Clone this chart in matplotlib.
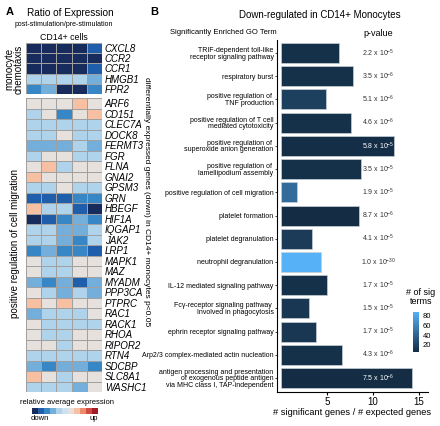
import numpy as np
import matplotlib
matplotlib.use("Agg")
import matplotlib.pyplot as plt
from matplotlib.colors import ListedColormap, BoundaryNorm, LinearSegmentedColormap, Normalize

plt.rcParams['font.family'] = ['Liberation Sans', 'DejaVu Sans']
plt.rcParams['mathtext.default'] = 'regular'

# ---- panel A data (levels 0..10, 0 = strongest down, 5/6 = neutral, 10 = strongest up)
chemo_genes = ["CXCL8", "CCR2", "CCR1", "HMGB1", "FPR2"]
chemo_vals = [
    [0, 0, 0, 0, 1],
    [0, 0, 0, 0, 0],
    [0, 0, 0, 0, 1],
    [4, 4, 4, 4, 3],
    [2, 3, 0, 0, 2],
]
migr_genes = ["ARF6", "CD151", "CLEC7A", "DOCK8", "FERMT3", "FGR", "FLNA", "GNAI2",
              "GPSM3", "GRN", "HBEGF", "HIF1A", "IQGAP1", "JAK2", "LRP1", "MAPK1",
              "MAZ", "MYADM", "PPP3CA", "PTPRC", "RAC1", "RACK1", "RHOA", "RIPOR2",
              "RTN4", "SDCBP", "SLC8A1", "WASHC1"]
migr_vals = [
    [6, 6, 6, 7, 6],
    [4, 6, 2, 6, 7],
    [4, 4, 4, 4, 4],
    [4, 4, 6, 4, 4],
    [3, 3, 3, 4, 3],
    [4, 6, 6, 4, 4],
    [6, 7, 4, 6, 6],
    [7, 6, 6, 6, 6],
    [4, 4, 6, 4, 4],
    [1, 1, 1, 2, 2],
    [7, 4, 4, 1, 0],
    [0, 1, 2, 3, 2],
    [4, 4, 3, 3, 4],
    [4, 4, 3, 2, 4],
    [2, 3, 2, 2, 1],
    [6, 4, 4, 6, 6],
    [6, 4, 4, 6, 6],
    [3, 2, 3, 1, 3],
    [6, 4, 3, 4, 3],
    [7, 6, 7, 6, 6],
    [3, 4, 4, 4, 6],
    [6, 4, 4, 4, 4],
    [6, 4, 4, 6, 6],
    [6, 6, 4, 6, 6],
    [4, 4, 4, 4, 4],
    [3, 2, 3, 3, 2],
    [7, 6, 4, 6, 6],
    [4, 4, 4, 3, 6],
]
level_colors = ['#172b5c', '#1f5eab', '#3786c6', '#74aedb', '#aed3eb', '#c9e1f1',
                '#e7e1dd', '#f7c0a2', '#ec8c6f', '#d1493f', '#a21c28']

# ---- panel B data
go_terms = ["TRIF-dependent toll-like\nreceptor signaling pathway",
            "respiratory burst",
            "positive regulation of \nTNF production",
            "positive regulation of T cell\nmediated cytotoxicity",
            "positive regulation of \nsuperoxide anion generation",
            "positive regulation of \nlamellipodium assembly",
            "positive regulation of cell migration",
            "platelet formation",
            "platelet degranulation",
            "neutrophil degranulation",
            "IL-12 mediated signaling pathway",
            "Fc\u03b3-receptor signaling pathway \nInvolved in phagocytosis",
            "ephrin receptor signaling pathway",
            "Arp2/3 complex-mediated actin nucleation",
            "antigen processing and presentation\nof exogenous peptide antigen\nvia MHC class I, TAP-independent"]
enrichment = [6.3, 7.8, 4.9, 7.6, 12.3, 8.7, 1.75, 8.5, 3.4, 4.35, 5.0, 3.0, 3.8, 6.6, 14.3]
n_sig_terms = [8, 8, 18, 8, 7, 8, 45, 6, 15, 88, 8, 12, 12, 8, 6]
p_mant = ["2.2", "3.5", "5.1", "4.6", "5.8", "3.5", "1.9", "8.7", "4.1", "1.0",
          "1.7", "1.5", "1.7", "4.3", "7.5"]
p_exp = ["-5", "-6", "-6", "-6", "-5", "-5", "-5", "-6", "-5", "-30",
         "-5", "-5", "-5", "-6", "-6"]
sig_ticks = [20, 40, 60, 80]

W, H = 440, 426
fig = plt.figure(figsize=(W / 100, H / 100), dpi=100)


def px(l, t, r, b):
    return [l / W, 1 - b / H, (r - l) / W, (b - t) / H]


def ftxt(x, y, s, **kw):
    fig.text(x / W, 1 - y / H, s, **kw)


cmap_hm = ListedColormap(level_colors)
norm_hm = BoundaryNorm(np.arange(-0.5, 11.5, 1), cmap_hm.N)


def heat(rect, vals, genes):
    ax = fig.add_axes(px(*rect))
    ax.pcolormesh(np.array(vals), cmap=cmap_hm, norm=norm_hm,
                  edgecolors='#a0a0a0', linewidth=0.4)
    ax.set_ylim(len(genes), 0)
    ax.set_xlim(0, 5)
    ax.set_xticks([])
    ax.yaxis.tick_right()
    ax.set_yticks(np.arange(len(genes)) + 0.5)
    ax.set_yticklabels(genes, fontsize=7, style='italic')
    ax.tick_params(axis='y', length=0, pad=2)
    for s in ax.spines.values():
        s.set_visible(False)
    return ax


heat((26, 43, 102, 94), chemo_vals, chemo_genes)
heat((26, 98, 102, 392), migr_vals, migr_genes)

ftxt(6, 12, "A", fontsize=8, fontweight='bold', va='center')
ftxt(27, 13, "Ratio of Expression", fontsize=7.2, va='center')
ftxt(64, 24, "post-stimulation/pre-stimulation", fontsize=5, va='center', ha='center')
ftxt(64, 38, "CD14+ cells", fontsize=6.3, va='center', ha='center')
ftxt(14, 69, "monocyte\nchemotaxis", fontsize=7, rotation=90, va='center', ha='center',
     linespacing=0.95)
ftxt(15, 244, "positive regulation of cell migration", fontsize=7, rotation=90,
     va='center', ha='center')
ftxt(146, 202, "differentially expressed genes (down) in CD14+ monocytes p<0.05",
     fontsize=6, rotation=-90, va='center', ha='center')

# heatmap legend
axl = fig.add_axes(px(32, 408, 97, 414))
axl.imshow(np.arange(11)[None, :], cmap=cmap_hm, norm=norm_hm, aspect='auto')
axl.set_axis_off()
ftxt(67, 402, "relative average expression", fontsize=5.5, ha='center', va='center')
ftxt(40, 419, "down", fontsize=5.5, ha='center', va='center')
ftxt(94, 419, "up", fontsize=5.5, ha='center', va='center')

# ---- panel B
cmap_b = LinearSegmentedColormap.from_list("gg", ['#132B43', '#56B1F7'])
norm_b = Normalize(5, 88)

ax = fig.add_axes(px(277, 40, 428, 392))
y = np.arange(len(go_terms))
ax.barh(y, enrichment, height=0.86, color=cmap_b(norm_b(n_sig_terms)),
        edgecolor='#c8d0d8', linewidth=0.5)
ax.set_ylim(len(go_terms) - 0.4, -0.56)
ax.set_xlim(-0.43, 16.0)
ax.set_yticks(y)
ax.set_yticklabels(go_terms, fontsize=5, linespacing=0.9)
ax.set_xticks([5, 10, 15])
ax.tick_params(axis='x', labelsize=7, length=2.5, pad=1)
ax.tick_params(axis='y', length=1.5, pad=1, width=0.5)
for s in ['top', 'right']:
    ax.spines[s].set_visible(False)
ax.spines['left'].set_linewidth(0.8)
ax.spines['bottom'].set_linewidth(0.8)
ax.set_xlabel("# significant genes / # expected genes", fontsize=6.7, labelpad=1)

for yi, v, m, e in zip(y, enrichment, p_mant, p_exp):
    col = 'white' if v > 12 else '#333333'
    ax.text(10.6, yi, m + " x 10$^{" + e + "}$", fontsize=5, color=col,
            ha='center', va='center')

ftxt(150, 12, "B", fontsize=8, fontweight='bold', va='center')
ftxt(320, 15, "Down-regulated in CD14+ Monocytes", fontsize=7, ha='center', va='center')
ftxt(223, 33, "Significantly Enriched GO Term", fontsize=5.5, ha='center', va='center')
ftxt(378, 33, "p-value", fontsize=6.5, ha='center', va='center')

# colorbar for # of sig terms
axc = fig.add_axes(px(413, 312, 419, 352))
cb = fig.colorbar(plt.cm.ScalarMappable(norm=norm_b, cmap=cmap_b), cax=axc)
cb.set_ticks(sig_ticks)
cb.outline.set_visible(False)
axc.tick_params(labelsize=5.5, length=1.5, color='white', pad=1, width=0.5)
ftxt(421, 297, "# of sig\nterms", fontsize=6.5, ha='center', va='center', linespacing=1.1)

fig.savefig("out.png", dpi=100)
